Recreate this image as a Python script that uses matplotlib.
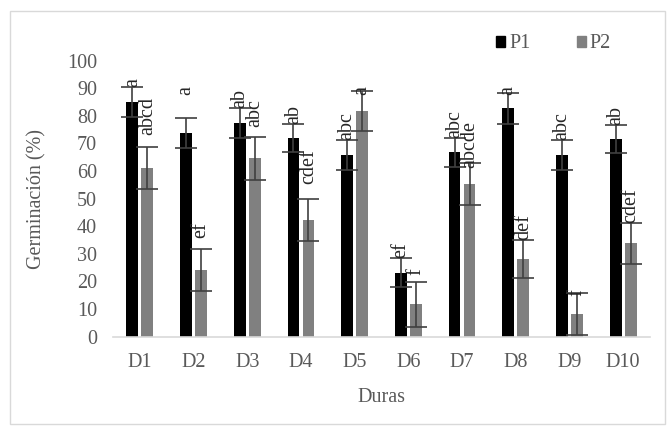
import matplotlib
matplotlib.use('Agg')
import matplotlib.pyplot as plt
import matplotlib.patches as mpatches
import numpy as np

plt.rcParams['font.family'] = ['Liberation Serif', 'DejaVu Serif']

# data
duras = ['D1', 'D2', 'D3', 'D4', 'D5', 'D6', 'D7', 'D8', 'D9', 'D10']
p1 = [85.1, 73.9, 77.4, 71.9, 65.8, 23.2, 66.8, 82.7, 65.8, 71.7]
p1_err = [5.5, 5.5, 5.3, 5.1, 5.4, 5.3, 5.3, 5.5, 5.4, 5.1]
p2 = [61.2, 24.2, 64.6, 42.2, 81.8, 11.7, 55.3, 28.2, 8.2, 33.8]
p2_err = [7.7, 7.7, 7.7, 7.6, 7.4, 8.2, 7.5, 6.8, 7.5, 7.5]
p1_letters = ['a', 'a', 'ab', 'ab', 'abc', 'ef', 'abc', 'a', 'abc', 'ab']
p2_letters = ['abcd', 'ef', 'abc', 'cdef', 'a', 'f', 'abcde', 'def', 'f', 'cdef']
# extra gap (in %) between error bar top and letter, as placed in the original
p1_lift = [0, 8, 0, 0, 0, 0, 0, -0.5, 0, 0]
p2_lift = [4, 4, 3.5, 5.5, -1.5, 2.5, -1.5, 0, -1, 0]

W, H = 670, 426
fig = plt.figure(figsize=(W / 100, H / 100), dpi=100)
fig.patches.append(mpatches.Rectangle((10 / W, 2 / H), 655 / W, 413 / H,
                                      transform=fig.transFigure, fill=False,
                                      edgecolor='#D9D9D9', linewidth=1))

ax = fig.add_axes([113 / W, (H - 336.7) / H, 537 / W, 276 / H])
x = np.arange(len(duras))
bw = 0.22
off = 0.14
ekw = dict(ecolor='#404040', elinewidth=1.2, capsize=8, capthick=1.2)
ax.bar(x - off, p1, bw, color='black', yerr=p1_err, error_kw=ekw, label='P1')
ax.bar(x + off, p2, bw, color='#808080', yerr=p2_err, error_kw=ekw, label='P2')

fs = 14.5
for i in range(len(duras)):
    ax.text(x[i] - off, p1[i] + p1_err[i] + p1_lift[i], p1_letters[i], rotation=90,
            ha='center', va='bottom', fontsize=fs, color='#262626')
    ax.text(x[i] + off, p2[i] + p2_err[i] + p2_lift[i], p2_letters[i], rotation=90,
            ha='center', va='bottom', fontsize=fs, color='#262626')

ax.set_xlim(-0.5, len(duras) - 0.5)
ax.set_ylim(0, 100)
ax.set_yticks(range(0, 101, 10))
ax.set_xticks(x)
ax.set_xticklabels(duras)
ax.tick_params(axis='both', length=0, labelsize=fs, colors='#595959')
ax.tick_params(axis='y', pad=11.5)
ax.tick_params(axis='x', pad=11.5)
for s in ['top', 'right', 'left']:
    ax.spines[s].set_visible(False)
ax.spines['bottom'].set_color('#D9D9D9')
ax.spines['bottom'].set_linewidth(1.2)
ax.set_ylabel('Germinación (%)', fontsize=fs, color='#595959', labelpad=15)
ax.set_xlabel('Duras', fontsize=fs, color='#595959', labelpad=12)

handles = [mpatches.Patch(color='black', label='P1'),
           mpatches.Patch(color='#808080', label='P2')]
fig.legend(handles=handles, loc='center left', bbox_to_anchor=(478 / W, 1 - 44 / H),
           ncol=2, frameon=False, fontsize=fs, handlelength=0.45, handleheight=0.45,
           handletextpad=0.2, columnspacing=2.3, labelcolor='#595959')

plt.savefig('out.png', dpi=100)
plt.close()
